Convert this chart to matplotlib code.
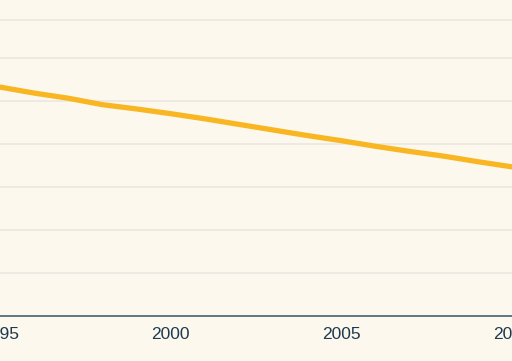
import matplotlib
matplotlib.use("Agg")
import matplotlib.pyplot as plt

years = [1995, 1996, 1997, 1998, 1999, 2000, 2001, 2002, 2003,
         2004, 2005, 2006, 2007, 2008, 2009, 2010]
values = [53.3, 51.9, 50.7, 49.2, 48.2, 47.1, 45.9, 44.6, 43.3,
          42.0, 40.8, 39.5, 38.3, 37.2, 35.9, 34.7]
xticks = [1995, 2000, 2005, 2010]
gridvals = [10, 20, 30, 40, 50, 60, 68.9]

bg = '#fdf8ee'
plt.rcParams['font.family'] = ['Liberation Sans']

fig = plt.figure(figsize=(5.12, 3.61), dpi=100, facecolor=bg)
ax = fig.add_axes([0, 0.1255, 1, 0.8745], facecolor=bg)

for g in gridvals:
    ax.axhline(g, color='#ebe7e1', lw=1.2, zorder=1)

ax.plot(years, values, color='#f9b623', lw=3.8, solid_capstyle='round',
        solid_joinstyle='round', zorder=3)

ax.set_xlim(1995.35, 2009.83)
ax.set_ylim(0, 73.6)
ax.set_yticks([])
ax.set_xticks(xticks)
ax.set_xticklabels([str(x) for x in xticks], fontsize=12.5, color='#1d3a4f')
ax.tick_params(axis='x', length=0, pad=8)

for s in ['top', 'left', 'right']:
    ax.spines[s].set_visible(False)
ax.spines['bottom'].set_color('#5f7686')
ax.spines['bottom'].set_linewidth(1.4)

fig.savefig('out.png', dpi=100, facecolor=bg)
